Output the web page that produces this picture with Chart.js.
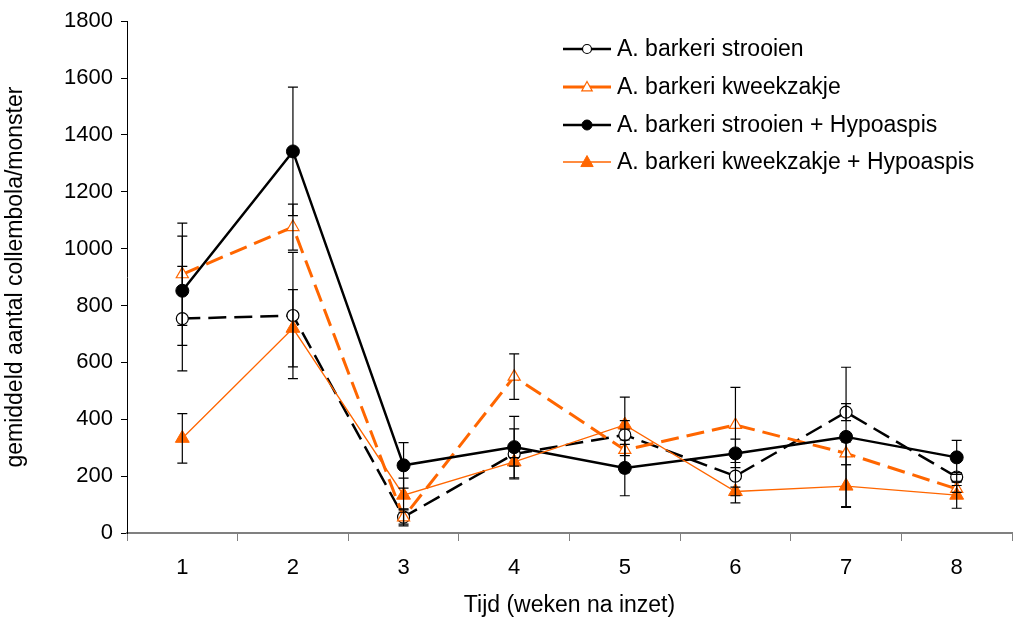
<!DOCTYPE html>
<html>
<head>
<meta charset="utf-8">
<script src="https://cdn.jsdelivr.net/npm/chart.js@4/dist/chart.umd.min.js"></script>
<style>
  html, body { margin: 0; padding: 0; background: #fff; }
</style>
</head>
<body>
<canvas id="chart" width="1021" height="621"></canvas>
<script>
// weeks after release
const weeks = ["1", "2", "3", "4", "5", "6", "7", "8"];

// mean collembola per sample
const strooien = [754, 765, 56, 278, 345, 200, 425, 197];
const kweekzakje = [910, 1076, 55, 550, 292, 380, 280, 155];
const strooienHypo = [852, 1342, 238, 302, 229, 280, 338, 266];
const kweekzakjeHypo = [333, 720, 133, 250, 380, 146, 165, 133];

// error bars (+/-)
const strooienErr = [184, 222, 25, 88, 133, 94, 30, 15];
const kweekzakjeErr = [180, 81, 30, 80, 20, 132, 40, 12];
const strooienHypoErr = [192, 226, 80, 108, 98, 50, 245, 60];
const kweekzakjeHypoErr = [87, 136, 60, 15, 15, 15, 75, 46];

const seriesNames = [
  "A. barkeri strooien",
  "A. barkeri kweekzakje",
  "A. barkeri strooien + Hypoaspis",
  "A. barkeri kweekzakje + Hypoaspis"
];

const yTicks = [0, 200, 400, 600, 800, 1000, 1200, 1400, 1600, 1800];

const orange = "#FF6600";
const font = "Liberation Sans, Arial, sans-serif";

// error bars, drawn with the chart's own scales
const errorBars = {
  id: "errorBars",
  afterDatasetsDraw(chart) {
    const ctx = chart.ctx;
    const xs = chart.scales.x;
    const ys = chart.scales.y;
    ctx.save();
    ctx.strokeStyle = "#000";
    ctx.lineWidth = 1.2;
    chart.data.datasets.forEach((ds) => {
      ds.data.forEach((v, i) => {
        const e = ds.errors[i];
        const x = xs.getPixelForValue(i);
        const yTop = ys.getPixelForValue(v + e);
        const yBot = ys.getPixelForValue(v - e);
        ctx.beginPath();
        ctx.moveTo(x, yTop);
        ctx.lineTo(x, yBot);
        ctx.moveTo(x - 5, yTop);
        ctx.lineTo(x + 5, yTop);
        ctx.moveTo(x - 5, yBot);
        ctx.lineTo(x + 5, yBot);
        ctx.stroke();
      });
    });
    ctx.restore();
  }
};

// legend in the top right corner, like the original
const boxLegend = {
  id: "boxLegend",
  afterDraw(chart) {
    const ctx = chart.ctx;
    ctx.save();
    const rows = [49, 87, 125, 162];
    chart.data.datasets.forEach((ds, i) => {
      const y = rows[i];
      ctx.strokeStyle = ds.borderColor;
      ctx.lineWidth = ds.borderWidth;
      ctx.beginPath();
      ctx.moveTo(563, y);
      ctx.lineTo(611, y);
      ctx.stroke();
      ctx.fillStyle = ds.pointBackgroundColor;
      ctx.strokeStyle = ds.pointBorderColor;
      ctx.lineWidth = ds.pointBorderWidth;
      ctx.beginPath();
      if (ds.pointStyle === "circle") {
        ctx.arc(587, y, ds.pointRadius - 1.5, 0, Math.PI * 2);
      } else {
        const r = ds.pointRadius - 1.5;
        ctx.moveTo(587, y - r);
        ctx.lineTo(587 + r * 0.95, y + r * 0.7);
        ctx.lineTo(587 - r * 0.95, y + r * 0.7);
        ctx.closePath();
      }
      ctx.fill();
      ctx.stroke();
      ctx.fillStyle = "#000";
      ctx.font = "23px " + font;
      ctx.textBaseline = "middle";
      ctx.fillText(seriesNames[i], 617, y + 1);
    });
    ctx.restore();
  }
};

new Chart(document.getElementById("chart"), {
  type: "line",
  data: {
    labels: weeks,
    datasets: [
      {
        label: seriesNames[0],
        data: strooien,
        errors: strooienErr,
        borderColor: "#000",
        borderWidth: 2.5,
        borderDash: [18, 8],
        pointStyle: "circle",
        pointRadius: 6,
        pointBackgroundColor: "#fff",
        pointBorderColor: "#000",
        pointBorderWidth: 1.2,
        order: 4
      },
      {
        label: seriesNames[1],
        data: kweekzakje,
        errors: kweekzakjeErr,
        borderColor: orange,
        borderWidth: 3,
        borderDash: [18, 8],
        pointStyle: "triangle",
        pointRadius: 7,
        pointBackgroundColor: "#fff",
        pointBorderColor: orange,
        pointBorderWidth: 1.2,
        order: 3
      },
      {
        label: seriesNames[2],
        data: strooienHypo,
        errors: strooienHypoErr,
        borderColor: "#000",
        borderWidth: 2.5,
        pointStyle: "circle",
        pointRadius: 6.5,
        pointBackgroundColor: "#000",
        pointBorderColor: "#000",
        pointBorderWidth: 1,
        order: 2
      },
      {
        label: seriesNames[3],
        data: kweekzakjeHypo,
        errors: kweekzakjeHypoErr,
        borderColor: orange,
        borderWidth: 1.3,
        pointStyle: "triangle",
        pointRadius: 8,
        pointBackgroundColor: orange,
        pointBorderColor: orange,
        pointBorderWidth: 1,
        order: 1
      }
    ]
  },
  options: {
    responsive: false,
    animation: false,
    events: [],
    layout: { padding: { top: 20, right: 5, left: 0, bottom: 0 } },
    plugins: {
      legend: { display: false },
      tooltip: { enabled: false }
    },
    scales: {
      x: {
        offset: true,
        grid: {
          display: true,
          drawOnChartArea: false,
          offset: true,
          tickLength: 8,
          color: "#808080",
          lineWidth: 1
        },
        border: { color: "#808080", width: 2 },
        ticks: {
          color: "#000",
          padding: 14,
          font: { family: font, size: 22 }
        },
        title: {
          display: true,
          text: "Tijd (weken na inzet)",
          color: "#000",
          font: { family: font, size: 23 },
          padding: { top: 6, bottom: 2 }
        },
        afterFit(scale) { scale.height = 88; }
      },
      y: {
        min: 0,
        max: 1800,
        afterBuildTicks(scale) {
          scale.ticks = yTicks.map((v) => ({ value: v }));
        },
        grid: {
          display: true,
          drawOnChartArea: false,
          tickLength: 6,
          color: "#000",
          lineWidth: 1
        },
        border: { color: "#000", width: 1 },
        ticks: {
          color: "#000",
          padding: 8,
          font: { family: font, size: 22 },
          callback: (v) => String(v)
        },
        title: {
          display: true,
          text: "gemiddeld aantal collembola/monster",
          color: "#000",
          font: { family: font, size: 23 },
          padding: { top: 2, bottom: 0 }
        },
        afterFit(scale) { scale.width = 127; }
      }
    }
  },
  plugins: [errorBars, boxLegend]
});
</script>
</body>
</html>
